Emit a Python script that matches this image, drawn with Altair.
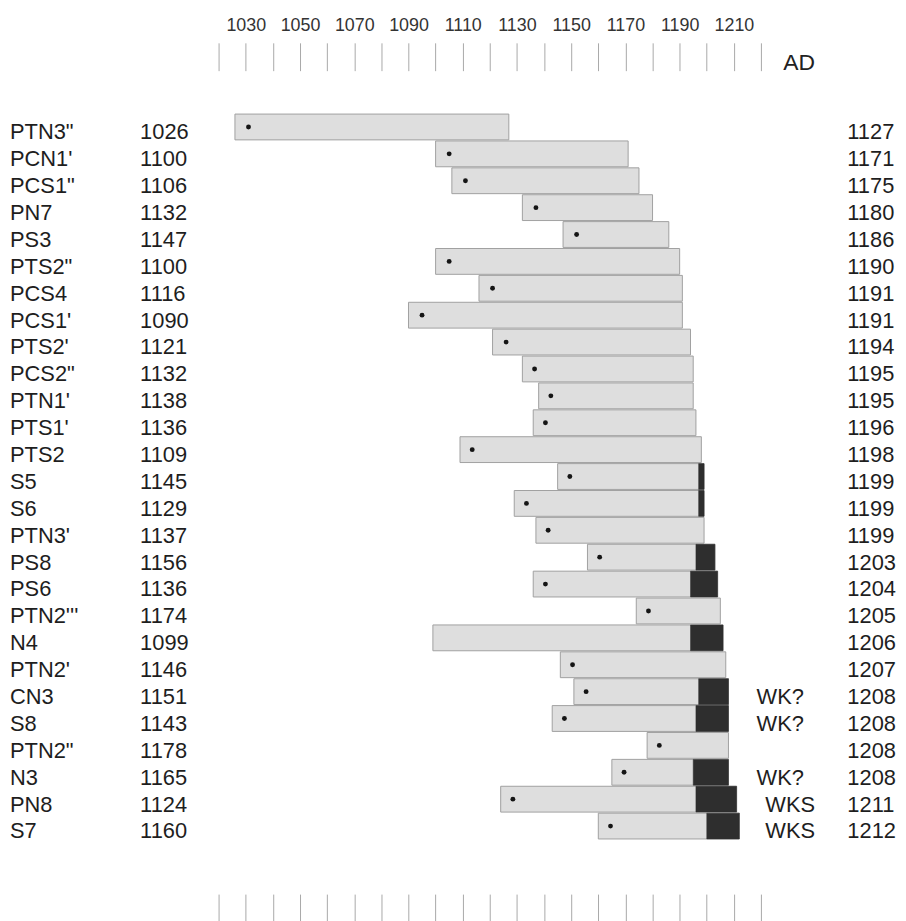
import altair as alt
import pandas as pd

FONT = "Liberation Sans"

names = ["PTN3\"", "PCN1'", "PCS1\"", "PN7", "PS3", "PTS2\"", "PCS4", "PCS1'", "PTS2'",
         "PCS2\"", "PTN1'", "PTS1'", "PTS2", "S5", "S6", "PTN3'", "PS8", "PS6", "PTN2'''",
         "N4", "PTN2'", "CN3", "S8", "PTN2\"", "N3", "PN8", "S7"]
start_years = [1026, 1100, 1106, 1132, 1147, 1100, 1116, 1090, 1121, 1132, 1138, 1136, 1109,
               1145, 1129, 1137, 1156, 1136, 1174, 1099, 1146, 1151, 1143, 1178, 1165, 1124, 1160]
end_years = [1127, 1171, 1175, 1180, 1186, 1190, 1191, 1191, 1194, 1195, 1195, 1196, 1198,
             1199, 1199, 1199, 1203, 1204, 1205, 1206, 1207, 1208, 1208, 1208, 1208, 1211, 1212]
dark_starts = [None, None, None, None, None, None, None, None, None, None, None, None, None,
               1197, 1197, None, 1196, 1194, None, 1194, None, 1197, 1196, None, 1195, 1196, 1200]
dot_years = [1031, 1105, 1111, 1137, 1152, 1105, 1121, 1095, 1126, 1136.5, 1142.5, 1140.5, 1113.5,
             1149.5, 1133.5, 1141.5, 1160.5, 1140.5, 1178.5, None, 1150.5, 1155.5, 1147.5,
             1182.5, 1169.5, 1128.5, 1164.5]
wk_labels = ["", "", "", "", "", "", "", "", "", "", "", "", "", "", "", "", "", "", "", "",
             "", "WK?", "WK?", "", "WK?", "WKS", "WKS"]
tick_years = [1020, 1030, 1040, 1050, 1060, 1070, 1080, 1090, 1100, 1110, 1120, 1130, 1140,
              1150, 1160, 1170, 1180, 1190, 1200, 1210, 1220]

df = pd.DataFrame({
    "name": names, "start": start_years, "end": end_years,
    "dark": dark_starts, "dot": dot_years, "wk": wk_labels,
})

xscale = alt.Scale(domain=[942.31, 1270.52], nice=False, zero=False)
yenc = alt.Y("name:N", sort=names, axis=None,
             scale=alt.Scale(paddingInner=0.04, paddingOuter=0, range=[43.7, 773.5]))

top_axis = alt.Axis(
    orient="top", values=tick_years, format="d",
    labelExpr="datum.value % 20 == 10 ? datum.label : ''",
    tickSize=28, tickColor="#a8a8a8", tickWidth=1, domain=False, grid=False,
    labelFont=FONT, labelFontSize=18, labelColor="#333333", labelPadding=12,
    labelBaseline="alphabetic", labelOverlap=False, labelFlush=False,
    title="AD", titleFont=FONT, titleFontSize=23, titleFontWeight="normal",
    titleColor="#222222", titleX=796, titleY=-8, titleAlign="center",
    titleBaseline="middle", titleAngle=0,
)
bottom_axis = alt.Axis(
    orient="bottom", values=tick_years, labels=False,
    tickSize=28, tickColor="#a8a8a8", tickWidth=1, domain=False, grid=False, title=None,
)

base = alt.Chart(df)

grey = base.mark_bar(fill="#dedede", stroke="#a0a0a0", strokeWidth=1).encode(
    x=alt.X("start:Q", scale=xscale, axis=top_axis), x2="end:Q", y=yenc)

dark = base.transform_filter("isValid(datum.dark)").mark_bar(
    fill="#2e2e2e", stroke="#2e2e2e", strokeWidth=0.5).encode(
    x=alt.X("dark:Q", scale=xscale, axis=bottom_axis), x2="end:Q", y=yenc)

dots = base.transform_filter("isValid(datum.dot)").mark_circle(
    size=24, color="#151515", opacity=1).encode(
    x=alt.X("dot:Q", scale=xscale, axis=None), y=yenc)

txt = dict(baseline="alphabetic", dy=12.5, font=FONT, fontSize=22, color="#1e1e1e")

name_t = base.mark_text(align="left", **txt).encode(
    x=alt.value(2), y=yenc, text="name:N")
start_t = base.mark_text(align="left", **txt).encode(
    x=alt.value(133), y=yenc, text=alt.Text("start:Q", format="d"))
end_t = base.mark_text(align="left", **txt).encode(
    x=alt.value(845), y=yenc, text=alt.Text("end:Q", format="d"))
wk1 = base.transform_filter("datum.wk == 'WK?'").mark_text(align="center", **txt).encode(
    x=alt.value(777.5), y=yenc, text="wk:N")
wk2 = base.transform_filter("datum.wk == 'WKS'").mark_text(align="center", **txt).encode(
    x=alt.value(787.5), y=yenc, text="wk:N")

chart = alt.layer(grey, dark, dots, name_t, start_t, end_t, wk1, wk2).resolve_axis(
    x="independent"
).properties(
    width=896, height=829,
    padding={"top": 60, "left": 0, "right": 0, "bottom": 24},
    autosize=alt.AutoSizeParams(type="none"),
    background="white",
).configure_view(stroke=None)

chart.save("out.html", embed_options={"renderer": "svg", "actions": False})
